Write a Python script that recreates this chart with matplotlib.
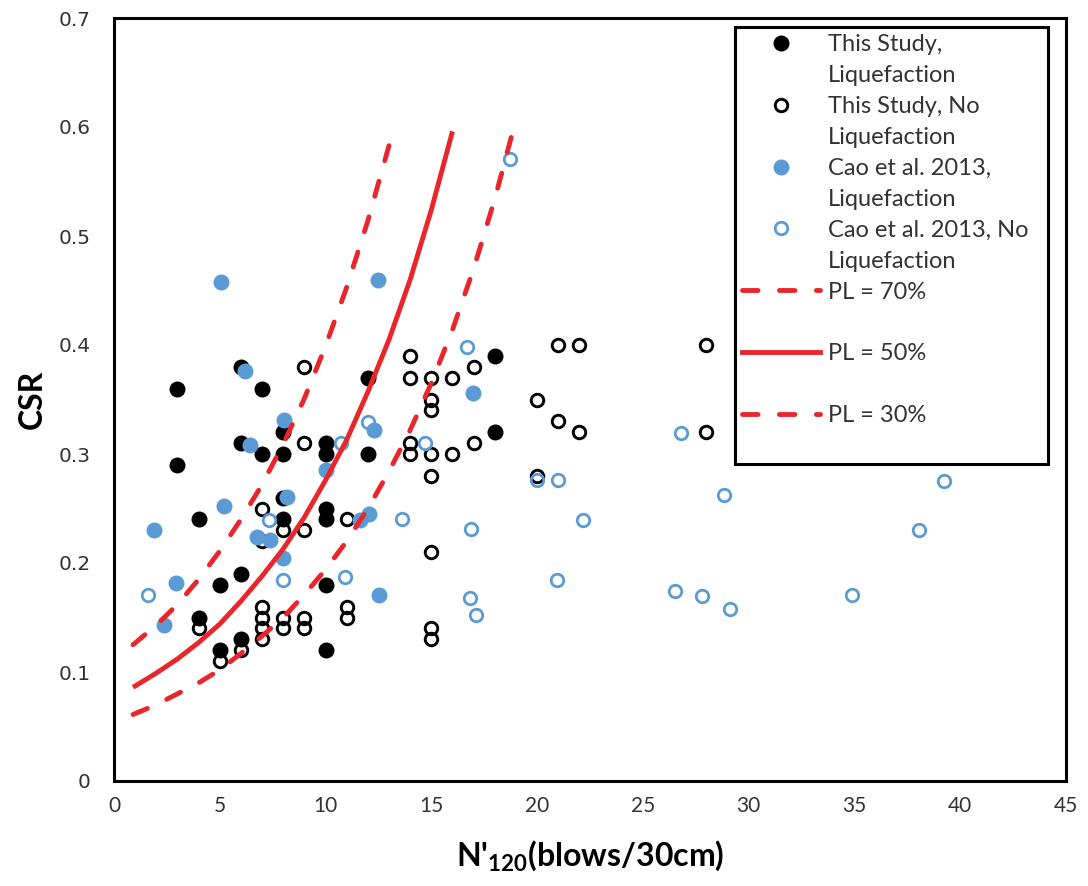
import matplotlib
matplotlib.use("Agg")
import matplotlib.pyplot as plt
from matplotlib.lines import Line2D

plt.rcParams['mathtext.fontset'] = 'custom'
plt.rcParams['mathtext.bf'] = 'Lato:bold'
plt.rcParams['mathtext.rm'] = 'Lato:bold'
plt.rcParams['mathtext.default'] = 'bf'

# This Study, Liquefaction
ts_liq_n = [3, 3, 4, 4, 5, 5, 6, 6, 6, 6, 7, 7, 8, 8, 8, 8,
            10, 10, 10, 10, 10, 10, 12, 12, 18, 18]
ts_liq_csr = [0.36, 0.29, 0.24, 0.15, 0.18, 0.12, 0.38, 0.31, 0.19, 0.13, 0.36, 0.30, 0.32, 0.30, 0.26, 0.24,
              0.31, 0.30, 0.25, 0.24, 0.18, 0.12, 0.37, 0.30, 0.39, 0.32]

# This Study, No Liquefaction
ts_noliq_n = [4, 5, 6, 7, 7, 7, 7, 7, 7, 8, 8, 8, 9, 9, 9, 9, 9, 11, 11, 11,
              14, 14, 14, 14, 15, 15, 15, 15, 15, 15, 15, 15, 16, 16, 17, 17,
              20, 20, 21, 21, 22, 22, 28, 28]
ts_noliq_csr = [0.14, 0.11, 0.12, 0.25, 0.22, 0.16, 0.15, 0.14, 0.13, 0.23, 0.15, 0.14, 0.38, 0.31, 0.23, 0.15, 0.14, 0.24, 0.16, 0.15,
                0.39, 0.37, 0.31, 0.30, 0.37, 0.35, 0.34, 0.30, 0.28, 0.21, 0.14, 0.13, 0.37, 0.30, 0.38, 0.31,
                0.35, 0.28, 0.40, 0.33, 0.40, 0.32, 0.40, 0.32]

# Cao et al. 2013, Liquefaction
cao_liq_n = [5.08, 6.19, 8.03, 12.48, 1.88, 5.19, 2.95, 2.35, 6.42, 10.02, 8.17, 6.74, 7.37, 7.98,
             11.63, 12.05, 12.29, 12.53, 16.96]
cao_liq_csr = [0.458, 0.376, 0.331, 0.460, 0.230, 0.252, 0.182, 0.143, 0.308, 0.285, 0.261, 0.224, 0.221, 0.205,
               0.239, 0.245, 0.322, 0.171, 0.356]

# Cao et al. 2013, No Liquefaction
cao_noliq_n = [1.59, 7.99, 7.32, 10.92, 12.0, 10.71, 14.7, 13.6, 16.87, 17.12, 16.83, 16.68, 19.99, 21.0,
               22.18, 20.94, 18.73, 26.8, 28.82, 26.54, 27.8, 29.1, 34.9, 38.05, 39.23]
cao_noliq_csr = [0.171, 0.184, 0.239, 0.187, 0.329, 0.310, 0.310, 0.240, 0.231, 0.152, 0.168, 0.398, 0.276, 0.276,
                 0.239, 0.184, 0.571, 0.319, 0.262, 0.174, 0.170, 0.158, 0.171, 0.230, 0.275]

# probability curves
pl70_n = [0.9, 2, 3, 4, 5, 6, 7, 8, 9, 10, 11, 12, 13, 13.13]
pl70_csr = [0.125, 0.143, 0.162, 0.185, 0.211, 0.240, 0.272, 0.309, 0.351, 0.399, 0.453, 0.514, 0.583, 0.592]

pl50_n = [0.9, 2, 3, 4, 5, 6, 7, 8, 9, 10, 11, 12, 13, 14, 15, 16]
pl50_csr = [0.086, 0.099, 0.112, 0.127, 0.144, 0.165, 0.188, 0.213, 0.242, 0.276, 0.313, 0.357, 0.405, 0.460,
            0.524, 0.596]

pl30_n = [0.9, 2, 3, 4, 5, 6, 7, 8, 9, 10, 11, 12, 13, 14, 15, 16, 17, 18, 18.81]
pl30_csr = [0.061, 0.070, 0.080, 0.090, 0.102, 0.117, 0.133, 0.150, 0.171, 0.194, 0.220, 0.250, 0.284, 0.322,
            0.365, 0.414, 0.470, 0.534, 0.593]

xticks = [0, 5, 10, 15, 20, 25, 30, 35, 40, 45]
yticks = [0, 0.1, 0.2, 0.3, 0.4, 0.5, 0.6, 0.7]
ytick_labels = ['0', '0.1', '0.2', '0.3', '0.4', '0.5', '0.6', '0.7']

blue = '#5B9BD5'
red = '#E8262B'

fig = plt.figure(figsize=(10.88, 8.86), dpi=100)
ax = fig.add_axes([114/1088, 1-781/886, 952/1088, 763/886])

ax.plot(ts_liq_n, ts_liq_csr, 'o', color='black', markersize=11.5, markeredgewidth=0, linestyle='none')
ax.plot(ts_noliq_n, ts_noliq_csr, 'o', markerfacecolor='none', markeredgecolor='black',
        markersize=9, markeredgewidth=2.1, linestyle='none')
ax.plot(cao_liq_n, cao_liq_csr, 'o', color=blue, markersize=11.5, markeredgewidth=0, linestyle='none')
ax.plot(cao_noliq_n, cao_noliq_csr, 'o', markerfacecolor='none', markeredgecolor=blue,
        markersize=9, markeredgewidth=2.0, linestyle='none')

ax.plot(pl70_n, pl70_csr, color=red, lw=3.5, dashes=[3.2, 4.4], dash_capstyle='round')
ax.plot(pl50_n, pl50_csr, color=red, lw=3.5, solid_capstyle='butt')
ax.plot(pl30_n, pl30_csr, color=red, lw=3.5, dashes=[3.2, 4.4], dash_capstyle='round')

ax.set_xlim(0, 45)
ax.set_ylim(0, 0.7)
ax.set_xticks(xticks)
ax.set_xticklabels([str(v) for v in xticks], fontfamily='Lato', fontsize=15, color='#333333')
ax.set_yticks(yticks)
ax.set_yticklabels(ytick_labels, fontfamily='DejaVu Sans', fontsize=14.5, color='#333333')
ax.tick_params(axis='both', length=0)
ax.tick_params(axis='y', pad=17)
ax.tick_params(axis='x', pad=11)
for s in ax.spines.values():
    s.set_linewidth(2.2)
    s.set_color('black')

ax.set_xlabel("N'$_{120}$(blows/30cm)", fontfamily='Lato', fontweight='bold', fontsize=23, labelpad=16)
ax.set_ylabel('CSR', fontfamily='Lato', fontweight='bold', fontsize=23, labelpad=8)

# legend: one row per text line, like the original wrapped entries
blank = Line2D([], [], linestyle='none')
h_ts_liq = Line2D([], [], marker='o', color='black', markersize=11.5, markeredgewidth=0, linestyle='none')
h_ts_no = Line2D([], [], marker='o', markerfacecolor='none', markeredgecolor='black', markersize=9,
                 markeredgewidth=2.1, linestyle='none')
h_cao_liq = Line2D([], [], marker='o', color=blue, markersize=11.5, markeredgewidth=0, linestyle='none')
h_cao_no = Line2D([], [], marker='o', markerfacecolor='none', markeredgecolor=blue, markersize=9,
                  markeredgewidth=2.0, linestyle='none')
h_70 = Line2D([], [], color=red, lw=3.5, dashes=[3.2, 4.4], dash_capstyle='round')
h_50 = Line2D([], [], color=red, lw=3.5)
h_30 = Line2D([], [], color=red, lw=3.5, dashes=[3.2, 4.4], dash_capstyle='round')

handles = [h_ts_liq, blank, h_ts_no, blank, h_cao_liq, blank, h_cao_no, blank,
           h_70, blank, h_50, blank, h_30, blank]
labels = ['This Study,', 'Liquefaction', 'This Study, No', 'Liquefaction',
          'Cao et al. 2013,', 'Liquefaction', 'Cao et al. 2013, No', 'Liquefaction',
          'PL = 70%', ' ', 'PL = 50%', ' ', 'PL = 30%', ' ']

leg = ax.legend(handles, labels, loc='upper left', bbox_to_anchor=(0.652, 0.0, 0.329, 0.988),
                mode='expand', borderaxespad=0, fancybox=False, framealpha=1,
                edgecolor='black', prop={'family': 'Lato', 'size': 17}, labelspacing=0.42,
                handlelength=3.3, handletextpad=0.35, borderpad=0.3)
leg.get_frame().set_linewidth(2.2)
for t in leg.get_texts():
    t.set_color('#333333')

fig.savefig('out.png', dpi=100)
